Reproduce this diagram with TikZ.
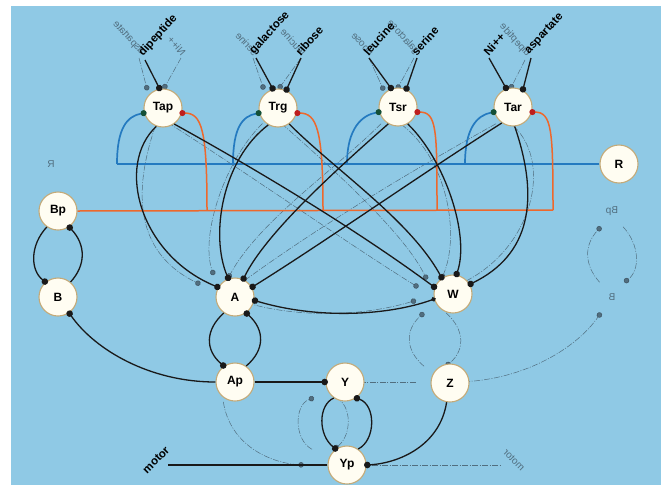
\documentclass[tikz,border=0pt]{standalone}
\usepackage{fontspec}
\setmainfont{Liberation Sans}
\usetikzlibrary{arrows.meta}
\definecolor{bgblue}{RGB}{143,201,229}
\definecolor{ndfill}{RGB}{255,253,242}
\definecolor{ndline}{RGB}{196,170,120}
\definecolor{wireblue}{RGB}{36,122,192}
\definecolor{wireorange}{RGB}{238,104,44}
\definecolor{tipred}{RGB}{190,30,30}
\definecolor{tipgreen}{RGB}{20,80,55}
\definecolor{ghostgray}{RGB}{40,50,60}
\definecolor{wireblack}{RGB}{25,25,25}

\newcommand\lbl[1]{#1}
\newcommand\keeplbl[1]{#1}

\newcommand\placenodes{%
  \node[nd] (Tap) at (163,108) {\lbl{Tap}};
  \node[nd] (Trg) at (278,108) {\lbl{Trg}};
  \node[nd] (Tsr) at (398,107) {\lbl{Tsr}};
  \node[nd] (Tar) at (513,107) {\lbl{Tar}};
  \node[nd] (R) at (619,164) {\keeplbl{R}};
  \node[nd] (Bp) at (58,211) {\keeplbl{Bp}};
  \node[nd] (B) at (58,297) {\keeplbl{B}};
  \node[nd] (A) at (235,297) {\lbl{A}};
  \node[nd] (W) at (453,294) {\lbl{W}};
  \node[nd] (Ap) at (235,382) {\lbl{Ap}};
  \node[nd] (Y) at (345,382) {\lbl{Y}};
  \node[nd] (Z) at (450,383) {\lbl{Z}};
  \node[nd] (Yp) at (347,465) {\lbl{Yp}};
  \coordinate (motl) at (168,465);
}

\newcommand\blackwires{%
  \draw[wire,tip] (Tap.250) .. controls (115,165) and (140,255) .. (A.150);
  \draw[wire,tip] (Tap.-55) .. controls (250,166) and (350,225) .. (W.160);
  \draw[wire,tip] (Trg.240) .. controls (222,160) and (210,235) .. (A.110);
  \draw[wire,tip] (Trg.-55) .. controls (335,170) and (410,220) .. (W.125);
  \draw[wire,tip] (Tsr.240) .. controls (330,175) and (265,235) .. (A.65);
  \draw[wire,tip] (Tsr.-60) .. controls (445,160) and (470,235) .. (W.80);
  \draw[wire,tip] (Tar.235) .. controls (420,175) and (320,245) .. (A.30);
  \draw[wire,tip] (Tar.-85) .. controls (540,200) and (530,255) .. (W.30);
  \draw[wire,tiptail] (A.-10) .. controls (320,320) and (390,315) .. (W.195);
  \draw[wire,tip] (Bp.235) .. controls (30,245) and (30,270) .. (B.130);
  \draw[wire,tip] (B.50) .. controls (86,265) and (86,245) .. (Bp.-55);
  \draw[wire,tip] (Ap.west) .. controls (150,382) and (95,350) .. (B.-55);
  \draw[wire,tip] (A.235) .. controls (205,330) and (205,350) .. (Ap.125);
  \draw[wire,tip] (Ap.55) .. controls (265,350) and (265,330) .. (A.-55);
  \draw[wire,tip] (Ap.east) -- (Y.west);
  \draw[wire,tip] (Y.235) .. controls (318,405) and (318,435) .. (Yp.125);
  \draw[wire,tip] (Yp.55) .. controls (376,440) and (376,405) .. (Y.-55);
  \draw[wire,tip] (Z.-100) .. controls (440,445) and (400,463) .. (Yp.east);
  \draw[wire] (Yp.west) -- (motl);
}

\newcommand\ligands{%
  \node[lig,anchor=south west] (dip) at (145,60) {dipeptide};
  \node[lig,anchor=south west] (gal) at (256,58) {galactose};
  \node[lig,anchor=south west] (rib) at (301,58) {ribose};
  \node[lig,anchor=south west] (leu) at (369,58) {leucine};
  \node[lig,anchor=south west] (ser) at (417,58) {serine};
  \node[lig,anchor=south west] (nii) at (489,58) {Ni++};
  \node[lig,anchor=south west] (asp) at (531,58) {aspartate};
  \node[lig,rotate=-3] (mot) at (156,460) {motor};
  \draw[wire,tip] (dip.south west) -- (Tap.100);
  \draw[wire,tip] (gal.south west) -- (Trg.105);
  \draw[wire,tip] (rib.south west) -- (Trg.65);
  \draw[wire,tip] (leu.south west) -- (Tsr.110);
  \draw[wire,tip] (ser.south west) -- (Tsr.65);
  \draw[wire,tip] (nii.south west) -- (Tar.110);
  \draw[wire,tip] (asp.south west) -- (Tar.60);
}

\begin{document}
\begin{tikzpicture}[x=1pt,y=-1pt,
  nd/.style={circle, minimum size=38pt, inner sep=0pt, fill=ndfill, draw=ndline,
    line width=1.1pt, font=\bfseries\fontsize{12}{13}\selectfont, text=black},
  lig/.style={font=\bfseries\fontsize{11.5}{12}\selectfont, rotate=48, inner sep=1pt, text=black},
  wire/.style={wireblack, line width=1.3pt},
  tip/.style={-{Circle[length=6.5pt]}, shorten >=-2.5pt},
  tiptail/.style={{Circle[length=6.5pt]}-{Circle[length=4.5pt]}, shorten >=-1.5pt, shorten <=-2.5pt},
  bluew/.style={wireblue, line width=1.7pt},
  orngw/.style={wireorange, line width=1.5pt},
  btip/.style={-{Circle[length=6pt,color=tipgreen]}, shorten >=-2.5pt},
  otip/.style={-{Circle[length=6pt,color=tipred]}, shorten >=-2.5pt}]
\useasboundingbox (0,0) rectangle (661,485);
\fill[bgblue] (11,6) rectangle (661,485);

% faint mirror image showing through from the back of the page
\begin{scope}[xshift=670pt, xscale=-1, transform shape, name prefix=g-,
  nd/.style={circle, minimum size=38pt, inner sep=0pt, draw=none, fill=none,
    font=\fontsize{10}{12}\selectfont, text=ghostgray, text opacity=0.6},
  lig/.style={font=\fontsize{10}{12}\selectfont, rotate=48, inner sep=1pt, text=ghostgray, text opacity=0.6},
  wire/.style={ghostgray, line width=0.5pt, opacity=0.6, dash pattern=on 6pt off 1.5pt on 1pt off 1.5pt},
  tip/.style={-{Circle[length=5.5pt]}},
  tiptail/.style={{Circle[length=5.5pt]}-{Circle[length=4pt]}}]
  \renewcommand\lbl[1]{}%
  \placenodes
  \blackwires
  \ligands
\end{scope}

\placenodes
\coordinate (b1) at (117,164);
\coordinate (b2) at (233,164);
\coordinate (b3) at (347,164);
\coordinate (b4) at (465,164);
\coordinate (o1) at (207,210);
\coordinate (o2) at (323,210);
\coordinate (o3) at (437,210);
\coordinate (o4) at (553,210);

\draw[bluew] (R.west) -- (b1);
\draw[bluew,btip] (b1) .. controls +(0,-36) and +(-17,3) .. (Tap.195);
\draw[bluew,btip] (b2) .. controls +(0,-36) and +(-17,3) .. (Trg.195);
\draw[bluew,btip] (b3) .. controls +(0,-36) and +(-17,3) .. (Tsr.195);
\draw[bluew,btip] (b4) .. controls +(0,-36) and +(-17,3) .. (Tar.195);

\draw[orngw] (Bp.east) -- (o4);
\draw[orngw,otip] (o1) .. controls +(0,-80) and +(20,0) .. (Tap.-15);
\draw[orngw,otip] (o2) .. controls +(0,-80) and +(20,0) .. (Trg.-15);
\draw[orngw,otip] (o3) .. controls +(0,-80) and +(20,0) .. (Tsr.-15);
\draw[orngw,otip] (o4) .. controls +(0,-80) and +(20,0) .. (Tar.-15);

\blackwires
\ligands
\end{tikzpicture}
\end{document}
